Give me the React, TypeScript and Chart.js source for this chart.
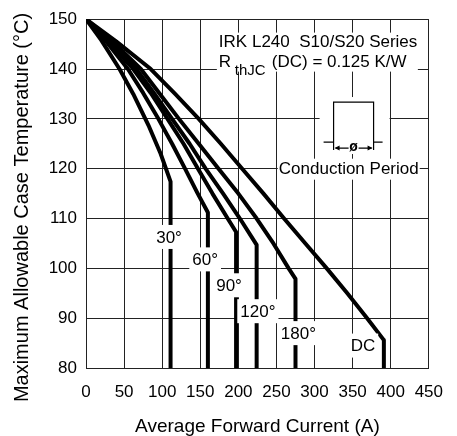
import React, { useEffect, useRef } from "react";
import { Chart, registerables } from "chart.js";

Chart.register(...registerables);

const FONT = '"Liberation Sans", Arial, sans-serif';

// tick labels
const xTickValues = [0, 50, 100, 150, 200, 250, 300, 350, 400, 450];
const yTickValues = [80, 90, 100, 110, 120, 130, 140, 150];

// series: [current A, case temperature °C]
const curve30 = [[0, 150], [20, 145.8], [44, 140], [62, 135], [82, 128.7], [98, 123], [111, 117.4], [111, 80]];
const curve60 = [[0, 150], [25, 145.8], [55, 140], [75, 135.2], [95, 130], [113, 125], [130, 120], [146, 115.2], [160, 111.2], [160, 80]];
const curve90 = [[0, 150], [28, 145.8], [62, 140], [85, 135.2], [107, 130], [128, 125], [147, 120], [166, 115], [186, 110], [197, 107.3], [197, 80]];
const curve120 = [[0, 150], [30, 145.8], [66, 140], [90, 135], [113, 130], [136, 125], [157, 120], [180, 115], [202, 110], [224, 104.7], [224, 80]];
const curve180 = [[0, 150], [33, 145.8], [72, 140], [97, 135], [122, 130], [148, 125], [174, 120], [200, 115], [224, 110], [246, 105], [266, 100], [275, 97.9], [275, 80]];
const curveDC = [[0, 150], [40, 145.5], [85, 140], [117, 135], [148, 130], [177, 125], [205, 120], [233, 115], [260, 110], [288, 105], [316, 100], [343, 95], [369, 90], [391, 85.6], [391, 80]];

const curves = [curve30, curve60, curve90, curve120, curve180, curveDC];
const curveNames = ["30°", "60°", "90°", "120°", "180°", "DC"];
// label anchors in data coordinates [A, °C]
const labelAnchors = [[109, 106.3], [156.4, 101.8], [187.8, 96.6], [225.6, 91.4], [278.8, 87], [363.5, 84.5]];

const headerLine1 = "IRK L240  S10/S20 Series";
const headerR = "R";
const headerSub = "thJC";
const headerLine2 = "(DC) = 0.125 K/W";
const headerAnchor = [174.4, 145.5];
const pulseAnchor = [325, 125.35];
const conductionText = "Conduction Period";
const conductionAnchor = [344.9, 120];

const annotPlugin = {
  id: "annot",
  afterDatasetsDraw(chart: any) {
    const { ctx } = chart;
    const xs = chart.scales.x;
    const ys = chart.scales.y;
    const px = (v: number) => xs.getPixelForValue(v);
    const py = (v: number) => ys.getPixelForValue(v);
    ctx.save();

    // curve labels
    ctx.font = `17px ${FONT}`;
    ctx.textBaseline = "middle";
    ctx.textAlign = "center";
    curveNames.forEach((t, i) => {
      const cx = px(labelAnchors[i][0]);
      const cy = py(labelAnchors[i][1]);
      const w = ctx.measureText(t).width + 6;
      ctx.fillStyle = "#fff";
      ctx.fillRect(cx - w / 2, cy - 12, w, 24);
      ctx.fillStyle = "#000";
      ctx.fillText(t, cx, cy + 1);
    });

    // header
    const hx = px(headerAnchor[0]);
    const hy = py(headerAnchor[1]);
    ctx.fillStyle = "#fff";
    ctx.fillRect(hx - 2, hy - 9, 201, 39);
    ctx.fillStyle = "#000";
    ctx.textAlign = "left";
    ctx.font = `17px ${FONT}`;
    ctx.fillText(headerLine1, hx, hy + 1);
    ctx.fillText(headerR, hx, hy + 21);
    ctx.font = `15px ${FONT}`;
    ctx.fillText(headerSub, hx + 16, hy + 29);
    ctx.font = `17px ${FONT}`;
    ctx.fillText(headerLine2, hx + 53, hy + 21);

    // conduction period icon
    const ax = px(pulseAnchor[0]);
    const by = py(pulseAnchor[1]);
    ctx.fillStyle = "#fff";
    ctx.fillRect(ax - 14, by - 45, 70, 57);
    ctx.strokeStyle = "#000";
    ctx.lineWidth = 1.2;
    ctx.beginPath();
    ctx.moveTo(ax - 10, by);
    ctx.lineTo(ax, by);
    ctx.moveTo(ax, by + 8);
    ctx.lineTo(ax, by - 40);
    ctx.lineTo(ax + 40, by - 40);
    ctx.lineTo(ax + 40, by + 8);
    ctx.moveTo(ax + 40, by);
    ctx.lineTo(ax + 49, by);
    ctx.moveTo(ax + 2, by + 6);
    ctx.lineTo(ax + 15, by + 6);
    ctx.moveTo(ax + 25, by + 6);
    ctx.lineTo(ax + 38, by + 6);
    ctx.stroke();
    ctx.fillStyle = "#000";
    ctx.beginPath();
    ctx.moveTo(ax + 1, by + 6);
    ctx.lineTo(ax + 6, by + 3.5);
    ctx.lineTo(ax + 6, by + 8.5);
    ctx.closePath();
    ctx.moveTo(ax + 39, by + 6);
    ctx.lineTo(ax + 34, by + 3.5);
    ctx.lineTo(ax + 34, by + 8.5);
    ctx.closePath();
    ctx.fill();
    ctx.font = `bold 14px ${FONT}`;
    ctx.textAlign = "center";
    ctx.fillText("ø", ax + 20, by + 5);

    // conduction period text
    ctx.font = `17px ${FONT}`;
    const cx = px(conductionAnchor[0]);
    const cy = py(conductionAnchor[1]);
    const tw = ctx.measureText(conductionText).width + 2;
    ctx.fillStyle = "#fff";
    ctx.fillRect(cx - tw / 2, cy - 10, tw, 21);
    ctx.fillStyle = "#000";
    ctx.fillText(conductionText, cx, cy + 1);

    ctx.restore();
  },
};

export default function App() {
  const ref = useRef<HTMLCanvasElement | null>(null);
  useEffect(() => {
    if (!ref.current) return;
    const chart = new Chart(ref.current, {
      type: "line",
      data: {
        datasets: curves.map((c, i) => ({
          label: curveNames[i],
          data: c.map(([x, y]) => ({ x, y })),
          borderColor: "#000",
          borderWidth: 4,
          pointRadius: 0,
          fill: false,
          tension: 0,
          borderJoinStyle: "round" as const,
        })),
      },
      options: {
        animation: false,
        responsive: false,
        maintainAspectRatio: false,
        devicePixelRatio: 1,
        layout: { padding: { left: 0, right: 20, top: 16, bottom: 0 } },
        plugins: { legend: { display: false }, tooltip: { enabled: false } },
        scales: {
          x: {
            type: "linear",
            min: 0,
            max: 450,
            afterBuildTicks: (s: any) => {
              s.ticks = xTickValues.map((v) => ({ value: v }));
            },
            afterFit: (s: any) => {
              s.height = 68;
            },
            ticks: { color: "#000", font: { family: FONT, size: 17 }, padding: 14, maxRotation: 0, autoSkip: false },
            grid: { color: "#222", lineWidth: 1, drawTicks: false },
            border: { color: "#222" },
            title: {
              display: true,
              text: "Average Forward Current (A)",
              color: "#000",
              font: { family: FONT, size: 19, lineHeight: 1 },
              padding: { top: 0, bottom: 0 },
            },
          },
          y: {
            type: "linear",
            min: 80,
            max: 150,
            afterBuildTicks: (s: any) => {
              s.ticks = yTickValues.map((v) => ({ value: v }));
            },
            afterFit: (s: any) => {
              s.width = 86;
            },
            ticks: { color: "#000", font: { family: FONT, size: 17 }, padding: 9, autoSkip: false },
            grid: { color: "#222", lineWidth: 1, drawTicks: false },
            border: { color: "#222" },
            title: {
              display: true,
              text: "Maximum Allowable Case Temperature (°C)     ",
              color: "#000",
              font: { family: FONT, size: 20, lineHeight: 1 },
              padding: { top: 12, bottom: 0 },
            },
          },
        },
      },
      plugins: [annotPlugin],
    });
    return () => chart.destroy();
  }, []);
  return (
    <div style={{ position: "absolute", left: 0, top: 0, width: 457, height: 436, background: "#fff" }}>
      <canvas ref={ref} width={457} height={436} style={{ display: "block" }} />
    </div>
  );
}
